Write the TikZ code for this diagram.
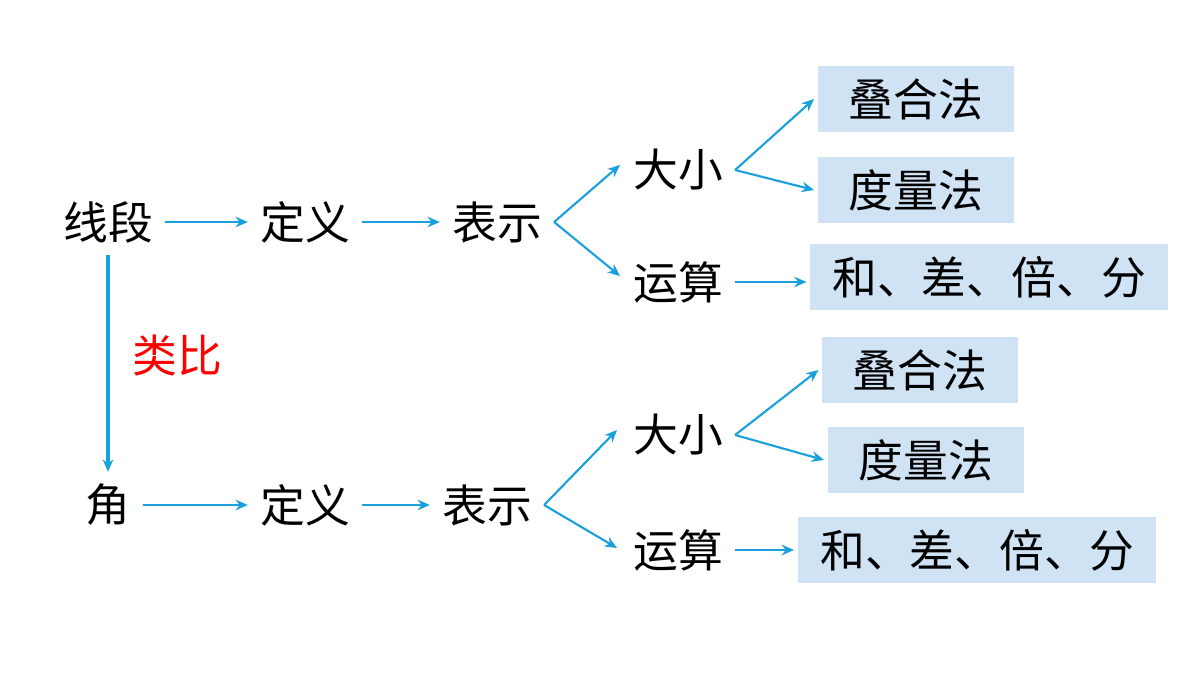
\documentclass[tikz,border=0pt]{standalone}
\usepackage{fontspec}
\setmainfont{Noto Sans CJK SC}
\usetikzlibrary{arrows.meta}
\definecolor{arr}{HTML}{1AA0DC}
\definecolor{boxc}{HTML}{CFE3F5}
\begin{document}
\begin{tikzpicture}[x=0.02cm,y=-0.02cm,
  txt/.style={font=\fontsize{25.5}{30}\selectfont, inner sep=0pt, outer sep=7pt},
  bx/.style={font=\fontsize{25.5}{30}\selectfont, fill=boxc, inner sep=0pt, outer sep=2pt, minimum height=1.32cm},
  ar/.style={draw=arr, line width=1.2pt, -{Stealth[length=7pt,width=6pt]}}]
\useasboundingbox (0,0) rectangle (1200,675);
% upper
\node[txt] (a1) at (108,222) {线段};
\node[txt] (b1) at (305,222) {定义};
\node[txt] (c1) at (497,222) {表示};
\node[txt] (d1) at (678,170) {大小};
\node[txt] (e1) at (678,282) {运算};
\node[bx,minimum width=3.94cm] (f1) at (916,99) {叠合法};
\node[bx,minimum width=3.94cm] (g1) at (916,190) {度量法};
\node[bx,minimum width=7.16cm] (h1) at (989,277) {和、差、倍、分};
\coordinate (p1) at (620,165);
\coordinate (q1) at (620,276);
\draw[ar] (a1.east) -- (b1.west);
\draw[ar] (b1.east) -- (c1.west);
\draw[ar] (c1.east) -- (p1);
\draw[ar] (c1.east) -- (q1);
\draw[ar] (d1.east) -- (f1.west);
\draw[ar] (d1.east) -- (g1.west);
\draw[ar] (e1.east) -- (e1.east -| h1.west);
% lower
\node[txt] (a2) at (108,505) {角};
\node[txt] (b2) at (305,505) {定义};
\node[txt] (c2) at (487,505) {表示};
\node[txt] (d2) at (678,435) {大小};
\node[txt] (e2) at (678,550) {运算};
\node[bx,minimum width=3.92cm] (f2) at (920,370) {叠合法};
\node[bx,minimum width=3.94cm] (g2) at (926,460) {度量法};
\node[bx,minimum width=7.18cm] (h2) at (977,550) {和、差、倍、分};
\coordinate (p2) at (617,430);
\coordinate (q2) at (617,548);
\draw[ar] (a2.east) -- (b2.west);
\draw[ar] (b2.east) -- (c2.west);
\draw[ar] (c2.east) -- (p2);
\draw[ar] (c2.east) -- (q2);
\draw[ar] (d2.east) -- (f2.west);
\draw[ar] (d2.east) -- (g2.west);
\draw[ar] (e2.east) -- (e2.east -| h2.west);
% analogy
\draw[ar, line width=2pt] (a1.south) -- (a2.north);
\node[txt, text=red, outer sep=0pt] (lb) at (177,355) {类比};
\end{tikzpicture}
\end{document}
